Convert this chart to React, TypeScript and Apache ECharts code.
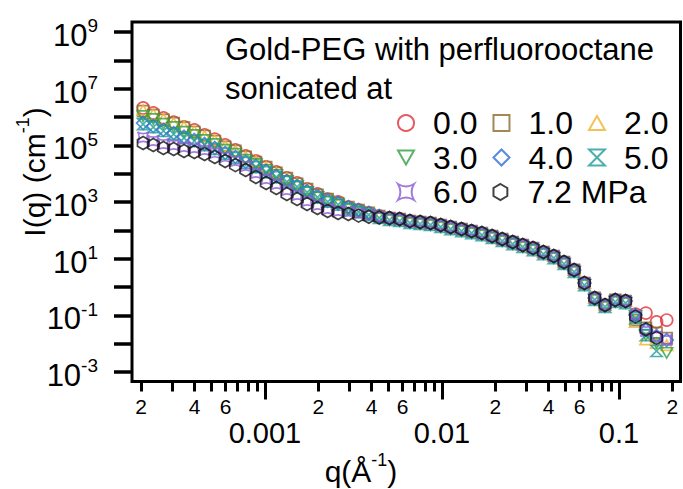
import React, { useEffect, useRef } from 'react';
import * as echarts from 'echarts';

// scattering vector q (Å^-1)
const qValues = [
  2.05e-4, 2.34e-4, 2.67e-4, 3.05e-4, 3.49e-4, 3.99e-4, 4.56e-4, 5.21e-4, 5.96e-4, 6.81e-4,
  7.78e-4, 8.89e-4, 1.016e-3, 1.16e-3, 1.33e-3, 1.52e-3, 1.73e-3, 1.98e-3, 2.26e-3, 2.59e-3,
  2.96e-3, 3.38e-3, 3.86e-3, 4.42e-3, 5.05e-3, 5.77e-3, 6.59e-3, 7.53e-3, 8.61e-3, 9.84e-3,
  1.12e-2, 1.29e-2, 1.47e-2, 1.68e-2, 1.92e-2, 2.19e-2, 2.51e-2, 2.86e-2, 3.27e-2, 3.74e-2,
  4.28e-2, 4.89e-2, 5.58e-2, 6.38e-2, 7.29e-2, 8.34e-2, 9.53e-2, 0.109, 0.124, 0.142,
  0.163, 0.186,
];

// I(q) (cm^-1) per sonication pressure
const I_0_0 = [
  2.07e6, 1.38e6, 9.3e5, 6.6e5, 4.5e5, 3.47e5, 2.31e5, 1.66e5, 1.03e5, 6.9e4,
  4.2e4, 2.8e4, 1.72e4, 1.15e4, 7.0e3, 4.7e3, 2.87e3, 1.92e3, 1.27e3, 1.0e3,
  660, 520, 410, 320, 272, 251, 213, 196, 181, 154,
  131, 111, 94, 80, 63, 49, 38.6, 30.3, 23.7, 17.1,
  12.4, 7.6, 4.0, 1.38, 0.41, 0.23, 0.35, 0.32, 0.11, 0.12,
  0.058, 0.068,
];
const I_1_0 = [
  1.62e6, 1.17e6, 7.9e5, 6.1e5, 4.2e5, 2.95e5, 2.13e5, 1.41e5, 8.8e4, 6.4e4,
  3.9e4, 2.57e4, 1.72e4, 1.06e4, 7.0e3, 4.4e3, 2.87e3, 1.77e3, 1.27e3, 920,
  660, 520, 410, 320, 272, 251, 213, 196, 181, 154,
  131, 111, 94, 80, 63, 49, 38.6, 30.3, 23.7, 17.1,
  12.4, 7.6, 4.0, 1.38, 0.41, 0.23, 0.35, 0.32, 0.068, 0.036,
  0.024, 0.0158,
];
const I_2_0 = [
  1.76e6, 1.27e6, 8.6e5, 6.1e5, 4.6e5, 3.2e5, 2.13e5, 1.53e5, 9.5e4, 6.4e4,
  3.9e4, 2.8e4, 1.72e4, 1.06e4, 7.0e3, 4.4e3, 2.87e3, 1.77e3, 1.27e3, 920,
  660, 520, 410, 320, 272, 251, 213, 196, 181, 154,
  131, 111, 94, 80, 63, 49, 38.6, 30.3, 23.7, 17.1,
  12.4, 7.6, 4.0, 1.38, 0.41, 0.23, 0.35, 0.32, 0.058, 0.014,
  0.0105, 0.0089,
];
const I_3_0 = [
  1.08e6, 8.5e5, 5.7e5, 4.4e5, 3.0e5, 2.31e5, 1.54e5, 1.11e5, 6.9e4, 5.0e4,
  3.06e4, 2.19e4, 1.35e4, 9.0e3, 5.5e3, 3.5e3, 2.25e3, 1.45e3, 1.02e3, 800,
  560, 442, 349, 272, 231, 213, 181, 167, 154, 131,
  111, 94, 80, 68, 54, 42, 32.8, 25.8, 20.1, 14.5,
  10.5, 6.5, 3.4, 1.17, 0.35, 0.2, 0.3, 0.27, 0.094, 0.02,
  0.0105, 0.0047,
];
const I_4_0 = [
  6.1e5, 4.8e5, 3.5e5, 2.7e5, 2.0e5, 1.54e5, 1.11e5, 8.0e4, 5.4e4, 3.9e4,
  2.6e4, 1.86e4, 1.24e4, 8.3e3, 5.5e3, 3.7e3, 2.44e3, 1.63e3, 1.17e3, 920,
  660, 520, 410, 320, 272, 251, 213, 196, 181, 154,
  131, 111, 94, 80, 63, 49, 38.6, 30.3, 23.7, 17.1,
  12.4, 7.6, 4.0, 1.38, 0.41, 0.23, 0.35, 0.32, 0.102, 0.03,
  0.0186, 0.0134,
];
const I_5_0 = [
  5.6e5, 4.4e5, 3.2e5, 2.5e5, 1.84e5, 1.42e5, 1.02e5, 7.4e4, 5.0e4, 3.6e4,
  2.4e4, 1.71e4, 1.14e4, 7.6e3, 5.1e3, 3.4e3, 2.2e3, 1.45e3, 1.02e3, 800,
  560, 442, 349, 272, 231, 213, 181, 167, 154, 131,
  111, 94, 80, 68, 54, 42, 32.8, 25.8, 20.1, 14.5,
  10.5, 6.5, 3.4, 1.17, 0.35, 0.2, 0.3, 0.27, 0.08, 0.02,
  0.0055,
];
const I_6_0 = [
  1.9e5, 1.43e5, 1.11e5, 1.02e5, 8.7e4, 8.0e4, 6.8e4, 5.4e4, 3.9e4, 2.77e4,
  1.87e4, 1.05e4, 6.5e3, 4.3e3, 2.64e3, 1.76e3, 1.08e3, 780, 565, 480,
  450, 400, 350, 300, 272, 251, 213, 196, 181, 154,
  131, 111, 94, 80, 63, 49, 38.6, 30.3, 23.7, 17.1,
  12.4, 7.6, 4.0, 1.38, 0.41, 0.23, 0.35, 0.32, 0.1, 0.028,
  0.018, 0.0134,
];
const I_7_2 = [
  1.21e5, 1.03e5, 8.0e4, 7.4e4, 6.3e4, 5.8e4, 4.9e4, 3.9e4, 2.8e4, 2.0e4,
  1.35e4, 7.6e3, 4.7e3, 3.1e3, 1.91e3, 1.27e3, 850, 612, 480, 408,
  376, 330, 300, 285, 272, 251, 213, 196, 181, 154,
  131, 111, 94, 80, 63, 49, 38.6, 30.3, 23.7, 17.1,
  12.4, 7.6, 4.0, 1.38, 0.41, 0.23, 0.35, 0.32, 0.09, 0.032,
  0.016,
];

const seriesLabels = ['0.0', '1.0', '2.0', '3.0', '4.0', '5.0', '6.0', '7.2 MPa'];
const seriesValues = [I_0_0, I_1_0, I_2_0, I_3_0, I_4_0, I_5_0, I_6_0, I_7_2];
const seriesColors = ['#E0313B', '#8A6A2C', '#F0B22E', '#2EA043', '#2F6BD8', '#1E9C98', '#8C5AD6', '#111111'];
const seriesSymbols = [
  'circle',
  'rect',
  'path://M5,0 L10,8.66 L0,8.66 Z',
  'path://M0,0 L10,0 L5,8.66 Z',
  'diamond',
  'path://M0,0 L10,0 L0,10 L10,10 Z',
  'path://M0,0 Q5,3 10,0 Q7,5 10,10 Q5,7 0,10 Q3,5 0,0 Z',
  'path://M5,0 L9.33,2.5 L9.33,7.5 L5,10 L0.67,7.5 L0.67,2.5 Z',
];
const seriesSizes = [12, 11, 12, 12, 13, 11, 11, 13];

// axes
const yTickValues = [1e-3, 1e-2, 1e-1, 1, 1e1, 1e2, 1e3, 1e4, 1e5, 1e6, 1e7, 1e8, 1e9];
const yLabelValues = [1e-3, 1e-1, 1e1, 1e3, 1e5, 1e7, 1e9];
const xMajorTicks = [1e-3, 1e-2, 1e-1];
const xMajorLabels = ['0.001', '0.01', '0.1'];
const xMinorTicks = [
  2e-4, 3e-4, 4e-4, 5e-4, 6e-4, 7e-4, 8e-4, 9e-4,
  2e-3, 3e-3, 4e-3, 5e-3, 6e-3, 7e-3, 8e-3, 9e-3,
  2e-2, 3e-2, 4e-2, 5e-2, 6e-2, 7e-2, 8e-2, 9e-2,
  2e-1,
];
const xMinorLabelValues = [2e-4, 4e-4, 6e-4, 2e-3, 4e-3, 6e-3, 2e-2, 4e-2, 6e-2, 2e-1];
const X_MIN = 1.774e-4;
const X_MAX = 0.2226;
const Y_MIN = 4.62e-4;
const Y_MAX = 2.25e9;

const FONT = "'Liberation Sans', Arial, Helvetica, sans-serif";

export default function App() {
  const ref = useRef<HTMLDivElement>(null);

  useEffect(() => {
    if (!ref.current) return;
    const chart = echarts.init(ref.current, undefined, { renderer: 'svg' });

    const series = seriesLabels.map((name, k) => ({
      type: 'scatter',
      name,
      data: seriesValues[k].map((v, i) => [qValues[i], v]),
      symbol: seriesSymbols[k],
      symbolSize: seriesSizes[k],
      symbolKeepAspect: true,
      itemStyle: { color: 'transparent', borderColor: seriesColors[k], borderWidth: 1.7 },
      emphasis: { disabled: true },
      z: 2 + k,
    }));

    const legendCommon = {
      orient: 'horizontal',
      left: 397,
      padding: 0,
      itemWidth: 16,
      itemHeight: 16,
      itemGap: 15,
      selectedMode: false,
      textStyle: {
        fontSize: 32,
        fontFamily: FONT,
        color: '#000',
        lineHeight: 34,
        padding: [0, 0, 0, 14],
      },
    };

    const supRich = {
      a: { fontSize: 30, fontFamily: FONT, color: '#000', lineHeight: 32, padding: [8, 0, 0, 0] },
      s: { fontSize: 18, fontFamily: FONT, color: '#000', lineHeight: 18, verticalAlign: 'top' },
    };

    chart.setOption({
      animation: false,
      backgroundColor: '#fff',
      grid: {
        left: 132,
        right: 2.5,
        top: 22,
        bottom: 107.5,
        show: true,
        borderColor: '#000',
        borderWidth: 3,
        backgroundColor: 'transparent',
      },
      legend: [
        { ...legendCommon, top: 106, data: seriesLabels.slice(0, 3) },
        { ...legendCommon, top: 140.5, data: seriesLabels.slice(3, 6) },
        { ...legendCommon, top: 175, data: seriesLabels.slice(6, 8) },
      ],
      xAxis: [
        {
          type: 'log',
          min: X_MIN,
          max: X_MAX,
          position: 'bottom',
          axisLine: { show: false },
          splitLine: { show: false },
          minorTick: { show: false },
          axisTick: { show: true, customValues: xMajorTicks, length: 18, lineStyle: { width: 3, color: '#000' } },
          axisLabel: {
            customValues: xMajorTicks,
            formatter: (v: number) => {
              let best = 0;
              xMajorTicks.forEach((t, i) => {
                if (Math.abs(Math.log10(t) - Math.log10(v)) < Math.abs(Math.log10(xMajorTicks[best]) - Math.log10(v))) best = i;
              });
              return xMajorLabels[best];
            },
            fontSize: 29,
            fontFamily: FONT,
            color: '#000',
            margin: 37,
          },
        },
        {
          type: 'log',
          min: X_MIN,
          max: X_MAX,
          position: 'bottom',
          axisLine: { show: false },
          splitLine: { show: false },
          minorTick: { show: false },
          axisTick: { show: true, customValues: xMinorTicks, length: 10, lineStyle: { width: 3, color: '#000' } },
          axisLabel: {
            customValues: xMinorLabelValues,
            formatter: (v: number) => String(Math.round(v / Math.pow(10, Math.floor(Math.log10(v) + 1e-9)))),
            fontSize: 21,
            fontFamily: FONT,
            color: '#000',
            margin: 14,
          },
        },
      ],
      yAxis: {
        type: 'log',
        min: Y_MIN,
        max: Y_MAX,
        axisLine: { show: false },
        splitLine: { show: false },
        minorTick: { show: false },
        axisTick: { show: true, customValues: yTickValues, length: 18, lineStyle: { width: 3.5, color: '#000' } },
        axisLabel: {
          customValues: yLabelValues,
          formatter: (v: number) => `{b|10}{s|${Math.round(Math.log10(v))}}`,
          margin: 34,
          rich: {
            b: { fontSize: 31, fontFamily: FONT, color: '#000', lineHeight: 31, padding: [7, 0, 0, 0] },
            s: { fontSize: 19, fontFamily: FONT, color: '#000', lineHeight: 19, verticalAlign: 'top' },
          },
        },
      },
      graphic: [
        {
          type: 'text',
          x: 225,
          y: 30,
          style: {
            text: 'Gold-PEG with perfluorooctane\nsonicated at',
            fontSize: 31,
            fontFamily: FONT,
            lineHeight: 39,
            fill: '#000',
            align: 'left',
            verticalAlign: 'top',
          },
        },
        {
          type: 'text',
          x: 361,
          y: 467,
          style: {
            text: '{a|q(Å}{s|-1}{a|)}',
            rich: supRich,
            align: 'center',
            verticalAlign: 'middle',
          },
        },
        {
          type: 'text',
          x: 30,
          y: 172,
          rotation: Math.PI / 2,
          style: {
            text: '{a|I(q) (cm}{s|-1}{a|)}',
            rich: supRich,
            align: 'center',
            verticalAlign: 'middle',
          },
        },
      ],
      series,
    });

    return () => chart.dispose();
  }, []);

  return (
    <div
      ref={ref}
      style={{ position: 'absolute', left: 0, top: 0, width: 683, height: 489, background: '#fff' }}
    />
  );
}
